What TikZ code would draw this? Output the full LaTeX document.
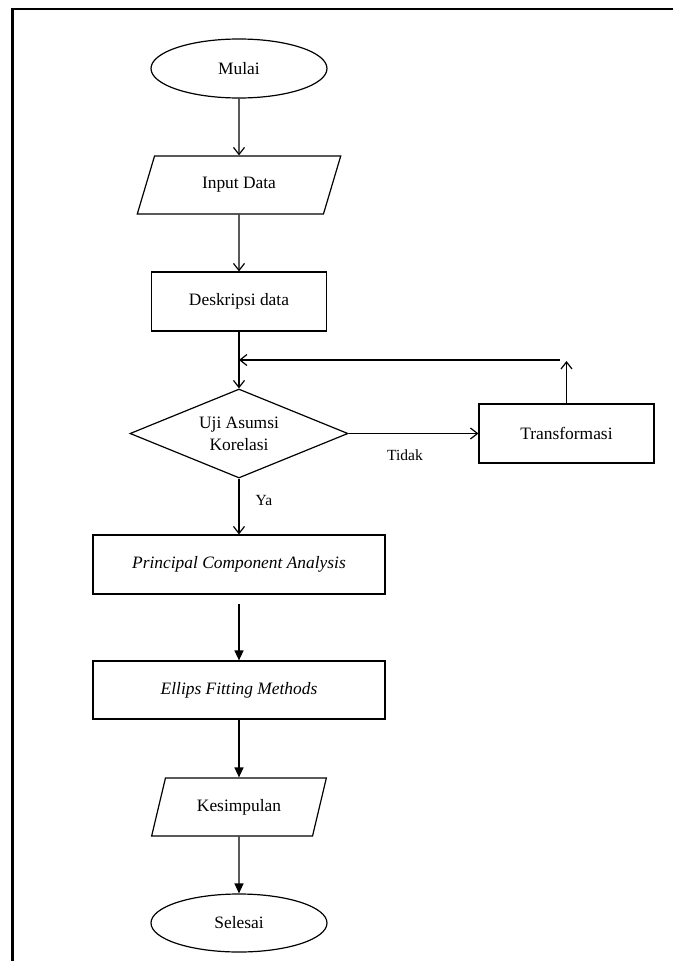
\documentclass[tikz,border=0pt]{standalone}
\usepackage{fontspec}
\setmainfont{Liberation Serif}
\usetikzlibrary{shapes.geometric,arrows.meta}
\begin{document}
\begin{tikzpicture}[x=1pt,y=-1pt,
  every node/.style={font=\fontsize{17.4}{22}\selectfont, inner sep=0pt},
  shp/.style={draw, line width=1.2pt},
  term/.style={shp, ellipse, minimum width=176pt, minimum height=59pt},
  io/.style={shp, trapezium, trapezium left angle=63.4, trapezium right angle=116.6, trapezium stretches=true, minimum height=58pt},
  proc/.style={shp, rectangle, minimum height=59pt},
  dec/.style={shp, diamond, aspect=2.45, minimum width=218pt, minimum height=89pt, align=center},
  lbl/.style={font=\fontsize{15.5}{18}\selectfont},
  openarr/.style={line width=1.2pt, -{Straight Barb[length=7pt,width=11pt,line width=1.2pt]}},
  fillarr/.style={line width=1.4pt, -{Triangle[length=10pt,width=9pt]}},
]
\useasboundingbox (0,0) rectangle (673,961);
\draw[line width=2.6pt] (12.5,961) -- (12.5,9) -- (673,9);

\node[term] (start) at (239,68.5) {Mulai};
\node[io, minimum width=204pt] (input) at (239,185) {Input Data};
\node[proc, minimum width=175pt] (desc) at (239,301.5) {Deskripsi data};
\node[dec] (uji) at (239,433.5) {Uji Asumsi\\Korelasi};
\node[proc, minimum width=175pt, minimum height=59pt] (trans) at (566.5,433.5) {Transformasi};
\node[proc, minimum width=292pt] (pca) at (239,564.5) {\itshape Principal Component Analysis};
\node[proc, minimum width=292pt, minimum height=58pt] (efm) at (239,690) {\itshape Ellips Fitting Methods};
\node[io, minimum width=175pt] (kes) at (239,807) {Kesimpulan};
\node[term, minimum height=58pt] (end) at (239,923) {Selesai};

\node[lbl] (tidak) at (405,455) {Tidak};
\node[lbl] (ya) at (264,500) {Ya};

\coordinate (upend) at (566.5,361);
\coordinate (retstart) at (560,360);

\draw[openarr] (start) -- (input);
\draw[openarr] (input) -- (desc);
\draw[openarr] (desc) -- (uji);
\draw[openarr] (uji) -- (trans);
\draw[openarr] (trans) -- (upend);
\draw[openarr] (retstart) -- (desc.south |- retstart);
\draw[openarr] (uji) -- (pca);
\draw[fillarr, shorten <=9pt] (pca) -- (efm);
\draw[fillarr] (efm) -- (kes);
\draw[fillarr] (kes) -- (end);
\end{tikzpicture}
\end{document}
